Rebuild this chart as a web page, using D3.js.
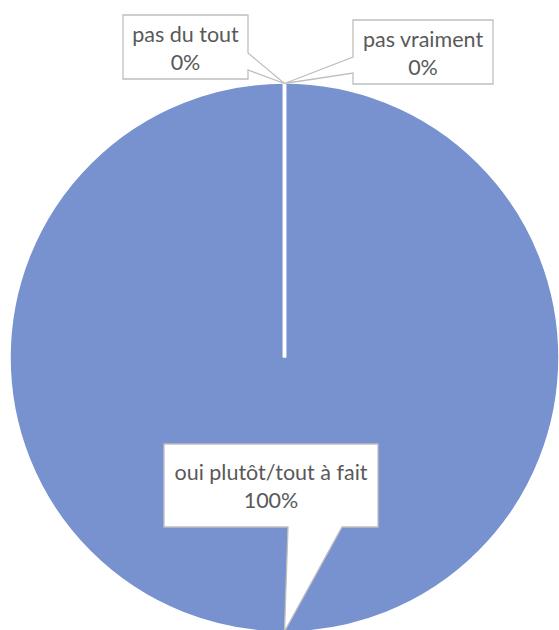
<!DOCTYPE html>
<html><head><meta charset="utf-8">
<script src="https://cdn.jsdelivr.net/npm/d3@7"></script>
<style>html,body{margin:0;padding:0;background:#fff;}svg{display:block;}</style>
</head><body>
<script>
const categories = ["pas du tout", "pas vraiment", "oui plutôt/tout à fait"];
const values = [0, 0, 100];

const W = 559, H = 630;
const cx = 284.5, cy = 357.5, R = 275.5;
const svg = d3.select("body").append("svg").attr("width", W).attr("height", H);
const g = svg.append("g").attr("transform", `translate(${cx},${cy})`);

const data = categories.map((c, i) => ({cat: c, value: values[i]}));
const total = d3.sum(values);
const pie = d3.pie().value(d => d.value).sort(null);
const arcs = pie(data);
const arc = d3.arc().innerRadius(0).outerRadius(R);

// draw the big slice first, then zero slices (white separator lines)
g.selectAll("path.slice").data(arcs.slice().sort((a,b)=>b.value-a.value)).join("path")
  .attr("class","slice")
  .attr("d", arc)
  .attr("fill", "#7891CF")
  .attr("stroke", "#fff")
  .attr("stroke-width", 3.5)
  .attr("stroke-linejoin","miter");

// callout layout (box in page coords, pointer base side)
const callouts = [
  {x0:123, y0:15, x1:248, y1:79, side:"right", b0:53, b1:70, l1:42, l2:70},
  {x0:353, y0:20, x1:493, y1:84, side:"left", b0:57, b1:73, l1:47, l2:75},
  {x0:164, y0:444, x1:378, y1:527, side:"bottom", b0:288, b1:342, l1:480, l2:508}
];

const fmt = v => Math.round(v / total * 100) + "%";
arcs.forEach((a, i) => {
  const c = callouts[i];
  const mid = (a.startAngle + a.endAngle) / 2;
  const tx = cx + (R - 1.5) * Math.sin(mid), ty = cy - (R - 1.5) * Math.cos(mid);
  const p = d3.path();
  p.moveTo(c.x0, c.y0);
  p.lineTo(c.x1, c.y0);
  if (c.side === "right") { p.lineTo(c.x1, c.b0); p.lineTo(tx, ty); p.lineTo(c.x1, c.b1); }
  p.lineTo(c.x1, c.y1);
  if (c.side === "bottom") { p.lineTo(c.b1, c.y1); p.lineTo(tx, ty); p.lineTo(c.b0, c.y1); }
  p.lineTo(c.x0, c.y1);
  if (c.side === "left") { p.lineTo(c.x0, c.b1); p.lineTo(tx, ty); p.lineTo(c.x0, c.b0); }
  p.closePath();
  svg.append("path").attr("d", p.toString())
    .attr("fill", "#fff").attr("stroke", "#BFBFBF").attr("stroke-width", 1.3);
  const mx = (c.x0 + c.x1) / 2;
  const t = svg.append("text").attr("text-anchor","middle")
    .attr("font-family","Lato, 'Open Sans', sans-serif").attr("font-size", 21.5).attr("fill","#595959");
  t.append("tspan").attr("x", mx).attr("y", c.l1).text(a.data.cat);
  t.append("tspan").attr("x", mx).attr("y", c.l2).text(fmt(a.value));
});
</script>
</body></html>
